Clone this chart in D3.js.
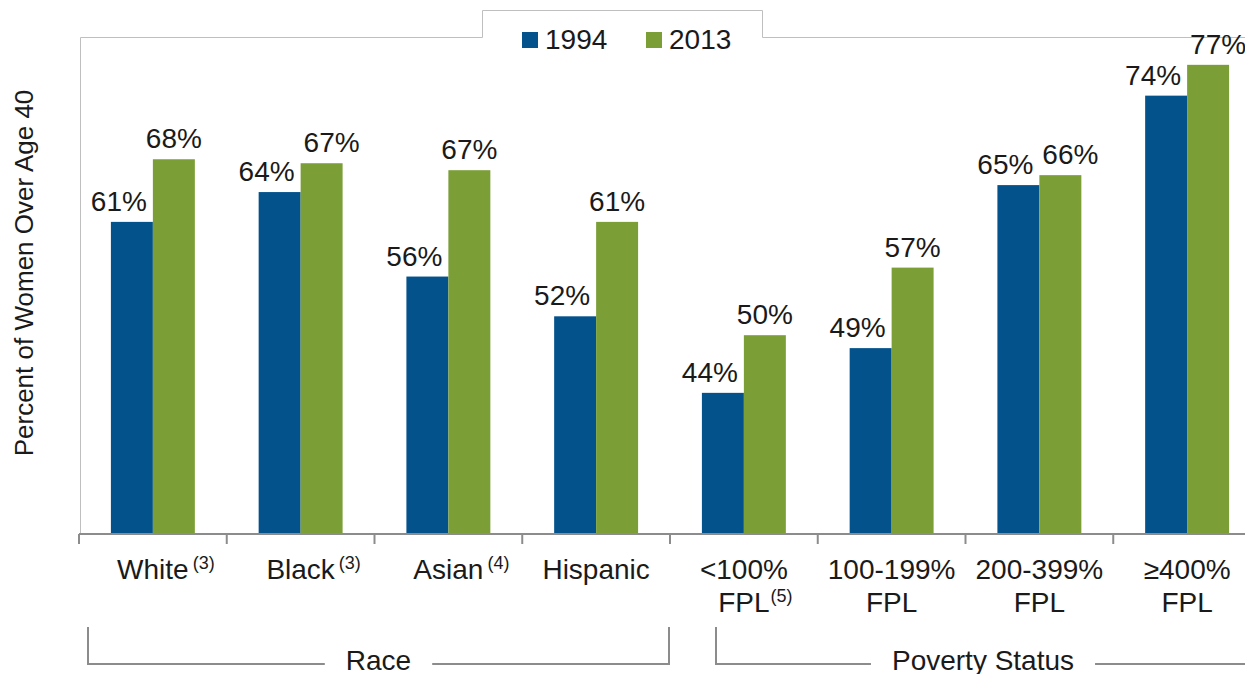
<!DOCTYPE html>
<html>
<head>
<meta charset="utf-8">
<script src="https://cdn.jsdelivr.net/npm/d3@7"></script>
<style>
body { margin: 0; background: #fff; }
text { font-family: Arial, "Liberation Sans", sans-serif; fill: #1a1a1a; }
</style>
</head>
<body>
<div id="main"></div>
<script>

// Data
var categories = ["White", "Black", "Asian", "Hispanic", "<100%", "100-199%", "200-399%", "\u2265400%"];
var secondLine = ["", "", "", "", "FPL", "FPL", "FPL", "FPL"];
var notes = ["(3)", "(3)", "(4)", "", "(5)", "", "", ""];
var series = ["1994", "2013"];
var values1994 = [61.4, 64.4, 55.9, 51.9, 44.2, 48.7, 65.1, 74.1];
var values2013 = [67.7, 67.3, 66.6, 61.4, 50.0, 56.8, 66.1, 77.2];
var groupNames = ["Race", "Poverty Status"];
var groupFirst = [0, 4];
var groupLast = [3, 7];

var colors = ["#03528c", "#7b9e36"];

//Width and height
var w = 1245,
	h = 674;

var plotLeft = 79,
	plotTop = 37,
	baseline = 534;

var svg = d3.select("#main")
	.append("svg")
	.attr("width", w)
	.attr("height", h);

// scales
var x0 = d3.scaleBand()
	.domain(d3.range(categories.length))
	.range([plotLeft, plotLeft + 147.75 * categories.length])
	.padding(0);

var x1 = d3.scaleBand()
	.domain(series)
	.range([0, x0.bandwidth()])
	.paddingInner(0)
	.paddingOuter(0.76);

var y = d3.scaleLinear()
	.domain([30, 80])
	.range([baseline, plotTop]);

// plot frame with legend tab
svg.append("path")
	.attr("d", "M" + (plotLeft + 1.5) + "," + baseline + "V" + (plotTop + 0.5) + "H482.5V10.5H762.5V" + (plotTop + 0.5) + "H" + w)
	.attr("fill", "none")
	.attr("stroke", "#bfbfbf")
	.attr("stroke-width", 1);

// bars
var rows = categories.map(function(c, i) {
	return { i: i, vals: [values1994[i], values2013[i]] };
});

var grp = svg.selectAll(".grp")
	.data(rows)
	.enter()
	.append("g")
	.attr("class", "grp")
	.attr("transform", function(d) { return "translate(" + x0(d.i) + ",0)"; });

grp.selectAll("rect")
	.data(function(d) { return d.vals.map(function(v, k) { return { s: series[k], v: v, k: k }; }); })
	.enter()
	.append("rect")
	.attr("x", function(d) { return x1(d.s); })
	.attr("y", function(d) { return y(d.v); })
	.attr("width", x1.bandwidth())
	.attr("height", function(d) { return baseline - y(d.v); })
	.attr("fill", function(d) { return colors[d.k]; });

// value labels: 1994 label sits left of its bar, 2013 label nudged right when the pair is close
grp.selectAll(".lbl")
	.data(function(d) {
		var close = Math.abs(d.vals[1] - d.vals[0]) < 4;
		return d.vals.map(function(v, k) {
			return { s: series[k], v: v, dx: k === 0 ? -13 : (close ? 10 : 0) };
		});
	})
	.enter()
	.append("text")
	.attr("class", "lbl")
	.attr("x", function(d) { return x1(d.s) + x1.bandwidth() / 2 + d.dx; })
	.attr("y", function(d) { return y(d.v) - 11; })
	.attr("text-anchor", "middle")
	.style("font-size", "28px")
	.text(function(d) { return Math.round(d.v) + "%"; });

// x axis line and ticks
svg.append("line")
	.attr("x1", plotLeft).attr("x2", w)
	.attr("y1", baseline).attr("y2", baseline)
	.attr("stroke", "#8c8c8c")
	.attr("stroke-width", 2);

svg.selectAll(".tk")
	.data(d3.range(categories.length + 1))
	.enter()
	.append("line")
	.attr("class", "tk")
	.attr("x1", function(i) { return plotLeft + x0.step() * i; })
	.attr("x2", function(i) { return plotLeft + x0.step() * i; })
	.attr("y1", baseline)
	.attr("y2", baseline + 10)
	.attr("stroke", "#8c8c8c")
	.attr("stroke-width", 2);

// category labels
categories.forEach(function(c, i) {
	var cx = x0(i) + x0.bandwidth() / 2;
	var t1 = svg.append("text")
		.attr("x", cx)
		.attr("y", 579)
		.attr("text-anchor", "middle")
		.style("font-size", "28px")
		.text(c);
	var main = t1, ty = 579;
	if (secondLine[i]) {
		main = svg.append("text")
			.attr("x", cx)
			.attr("y", 612)
			.attr("text-anchor", "middle")
			.style("font-size", "28px")
			.text(secondLine[i]);
		ty = 612;
	}
	if (notes[i]) {
		var len = main.node().getComputedTextLength();
		svg.append("text")
			.attr("x", cx + len / 2 + (secondLine[i] ? 1 : 4))
			.attr("y", ty - 10)
			.style("font-size", "18px")
			.text(notes[i]);
	}
});

// group brackets
var insetL = [9, 46],
	insetR = [1, 11],
	by = 664;

groupNames.forEach(function(g, k) {
	var xa = x0(groupFirst[k]) + insetL[k],
		xb = x0(groupLast[k]) + x0.bandwidth() - insetR[k],
		mid = (xa + xb) / 2;
	var t = svg.append("text")
		.attr("x", mid)
		.attr("y", 670)
		.attr("text-anchor", "middle")
		.style("font-size", "28px")
		.text(g);
	var half = t.node().getComputedTextLength() / 2 + 21;
	svg.append("path")
		.attr("d", "M" + xa + ",627V" + by + "H" + (mid - half) + "M" + (mid + half) + "," + by + "H" + xb + "V627")
		.attr("fill", "none")
		.attr("stroke", "#8c8c8c")
		.attr("stroke-width", 2);
});

// y axis title
svg.append("text")
	.attr("transform", "translate(33,273) rotate(-90)")
	.attr("text-anchor", "middle")
	.style("font-size", "26px")
	.text("Percent of Women Over Age 40");

// legend
var legX = [522, 646];
series.forEach(function(s, k) {
	svg.append("rect")
		.attr("x", legX[k])
		.attr("y", 32)
		.attr("width", 16)
		.attr("height", 16)
		.attr("fill", colors[k]);
	svg.append("text")
		.attr("x", legX[k] + 23)
		.attr("y", 49)
		.style("font-size", "28px")
		.text(s);
});

</script>
</body>
</html>
